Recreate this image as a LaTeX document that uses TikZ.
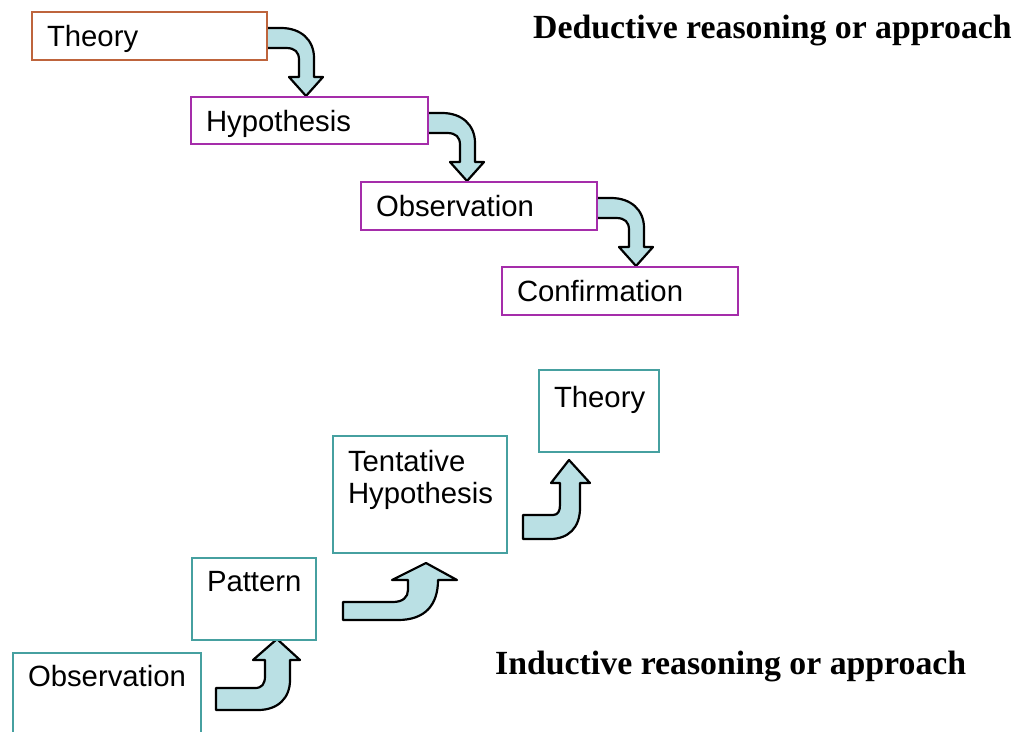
\documentclass[tikz,border=0pt]{standalone}
\usepackage{fontspec}
\setmainfont{Liberation Sans}
\newfontfamily\titlefont{Liberation Serif}
\usetikzlibrary{calc}

\definecolor{dedbrown}{RGB}{190,100,60}
\definecolor{dedpurple}{RGB}{165,45,170}
\definecolor{indteal}{RGB}{70,160,160}
\definecolor{arrowfill}{RGB}{186,224,228}

\tikzset{
  stagebox/.style={draw, fill=white, line width=2pt, anchor=north west,
    inner xsep=15pt, inner ysep=0pt, align=left,
    font=\fontsize{29.3}{32}\selectfont},
  blockarrow/.style={draw=black, fill=arrowfill, line width=2.2pt, line join=round},
  heading/.style={anchor=base west, inner sep=0pt,
    font=\titlefont\bfseries\fontsize{33.8}{36}\selectfont},
  % bent arrow leaving a box to the right and turning down
  downturn/.pic={
    \path[blockarrow] (0,0) -- (15,0) .. controls (35,0) and (48,12) .. (48,30)
      -- (48,49) -- (57,49) -- (40,68) -- (23,49) -- (33,49) -- (33,32)
      .. controls (33,24) and (29,20) .. (20,20) -- (0,20) -- cycle;
  }
}

\begin{document}
\begin{tikzpicture}[x=1pt, y=-1pt]
\clip (0,0) rectangle (1019,731);
\fill[white] (0,0) rectangle (1019,731);

% ---------- deductive staircase ----------
\node[heading] (dedtitle) at (533,38) {Deductive reasoning or approach};

\coordinate (a1) at (266,28);
\coordinate (a2) at (427,113);
\coordinate (a3) at (596,198);
\pic at (a1) {downturn};
\pic at (a2) {downturn};
\pic at (a3) {downturn};

\node[stagebox, draw=dedbrown, text width=205pt, text height=34pt, text depth=14pt]
  (theoryD) at (31,11) {Theory};
\node[stagebox, draw=dedpurple, text width=207pt, text height=34pt, text depth=13pt]
  (hypD) at (190,96) {Hypothesis};
\node[stagebox, draw=dedpurple, text width=206pt, text height=34pt, text depth=14pt]
  (obsD) at (360,181) {Observation};
\node[stagebox, draw=dedpurple, text width=206pt, text height=34pt, text depth=14pt]
  (confD) at (501,266) {Confirmation};

% ---------- inductive staircase ----------
\node[heading] (indtitle) at (495,674) {Inductive reasoning or approach};

% observation -> pattern
\path[blockarrow] (216,688) -- (255,688) .. controls (262,688) and (265,684) .. (265,676)
  -- (265,660) -- (253,660) -- (277,639) -- (300,660) -- (290,660) -- (290,680)
  .. controls (290,698) and (278,710) .. (258,710) -- (216,710) -- cycle;
% pattern -> tentative hypothesis
\path[blockarrow] (343,602) -- (393,602) .. controls (403,602) and (408,597) .. (408,590)
  -- (408,580) -- (392,580) -- (426,563) -- (457,580) -- (438,580)
  .. controls (438,605) and (425,620) .. (398,620) -- (343,620) -- cycle;
% tentative hypothesis -> theory
\path[blockarrow] (523,515) -- (553,515) .. controls (558,515) and (560,511) .. (560,505)
  -- (560,483) -- (551,483) -- (569,460) -- (590,483) -- (580,483) -- (580,508)
  .. controls (580,528) and (568,539) .. (550,539) -- (523,539) -- cycle;

\node[stagebox, draw=indteal, text width=158pt, text height=33pt, text depth=67pt]
  (obsI) at (12,652) {Observation};
\node[stagebox, draw=indteal, text width=94pt, text height=33pt, text depth=49pt]
  (patI) at (191,557) {Pattern};
\node[stagebox, draw=indteal, text width=144pt, text height=35pt, text depth=82pt]
  (tentI) at (332,435) {Tentative\\Hypothesis};
\node[stagebox, draw=indteal, text width=90pt, text height=37pt, text depth=45pt]
  (theoryI) at (538,369) {Theory};
\end{tikzpicture}
\end{document}
